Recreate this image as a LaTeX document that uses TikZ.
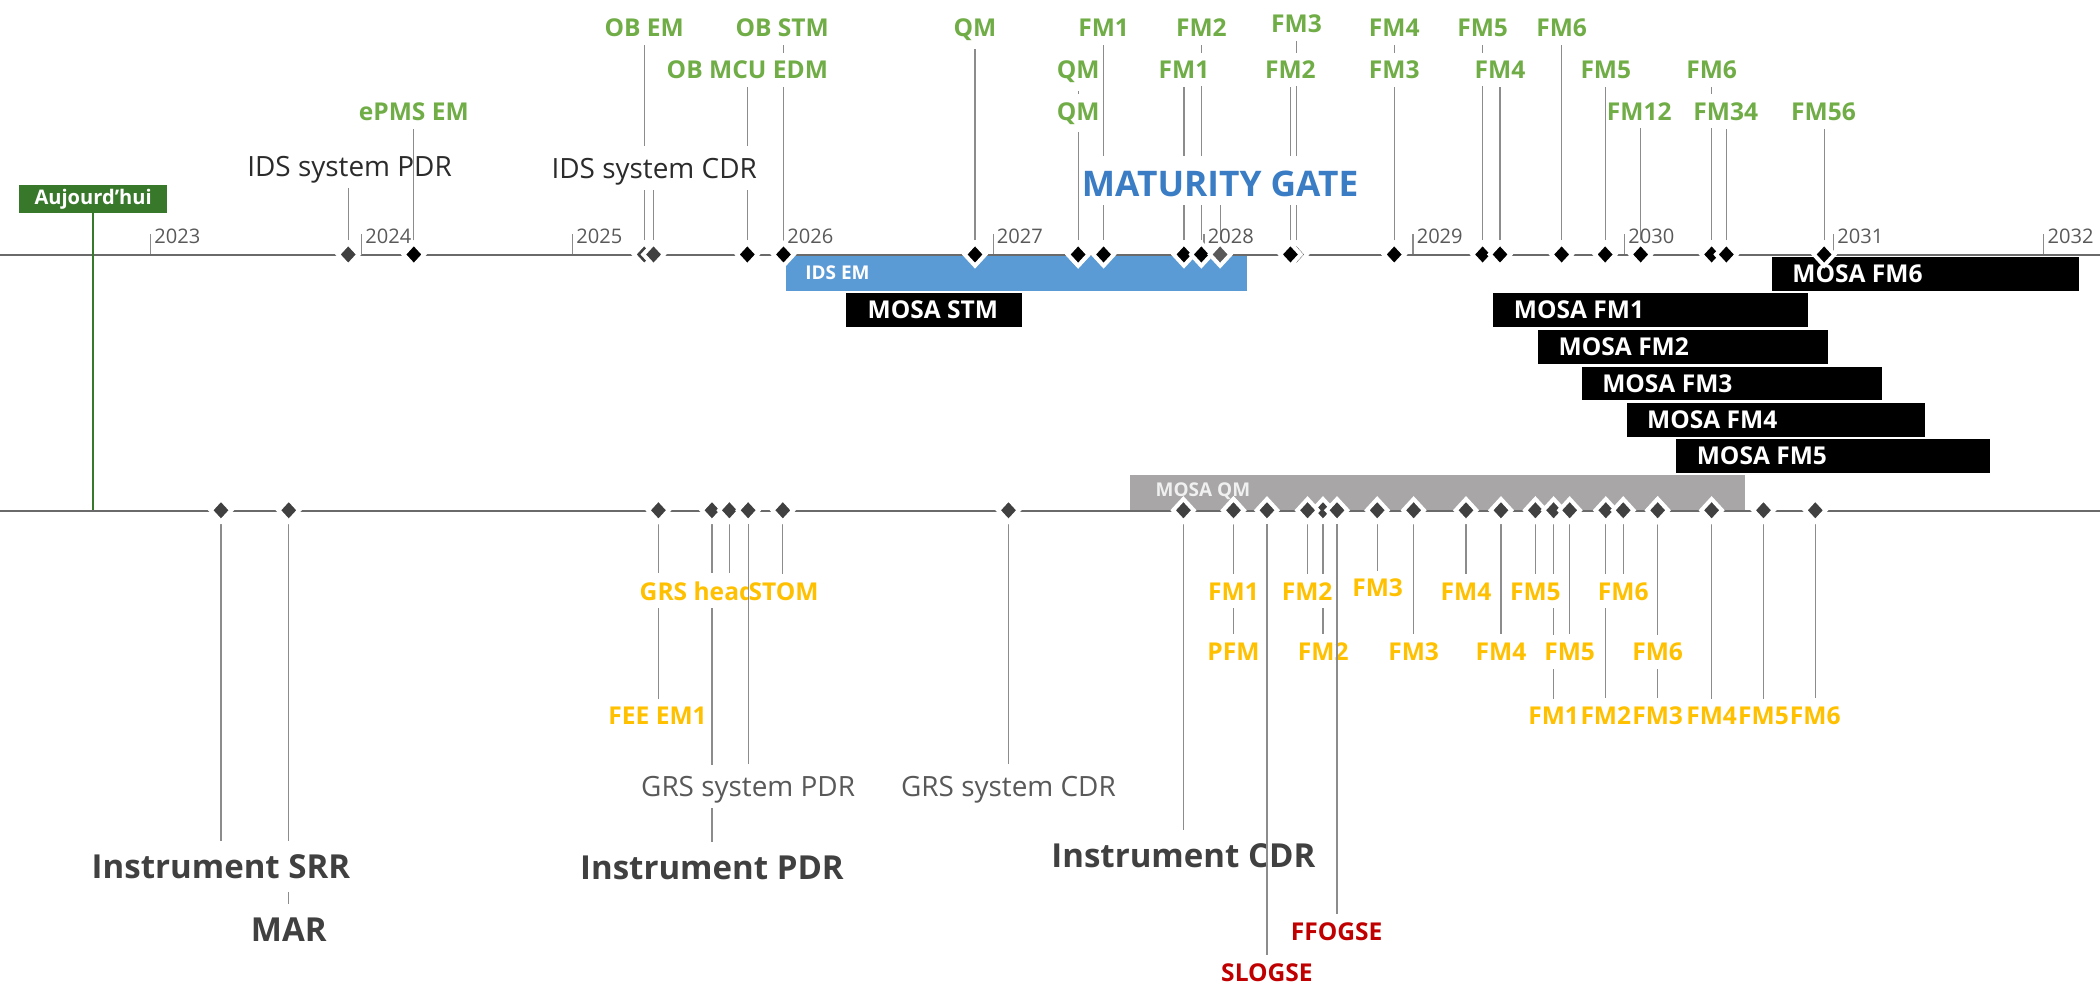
\documentclass[tikz,border=0pt]{standalone}
\usepackage{fontspec}
\setmainfont{Open Sans}
\usetikzlibrary{shapes.geometric,backgrounds}
\definecolor{tlGreen}{HTML}{70AD47}
\definecolor{tlGold}{HTML}{FFC000}
\definecolor{tlRed}{HTML}{C00000}
\definecolor{tlBlueBar}{HTML}{5B9BD5}
\definecolor{tlGate}{HTML}{3A7DC4}
\definecolor{tlInk}{HTML}{404040}
\definecolor{tlText}{HTML}{2B2B2B}
\definecolor{tlSub}{HTML}{595959}
\definecolor{tlLine}{HTML}{8C8C8C}
\definecolor{tlAxis}{HTML}{6A6A6A}
\definecolor{tlToday}{HTML}{38782B}
\definecolor{tlQmBar}{HTML}{A8A6A6}

\begin{document}
\begin{tikzpicture}[x=0.6pt,y=-0.6pt,
  tlMs/.style={shape=diamond, inner sep=0pt, minimum width=10pt, minimum height=10.8pt, draw=white, line width=1.8pt, fill=#1},
  tlMs/.default=black,
  tlLead/.style={draw=tlLine, line width=0.5pt},
  tlTag/.style={font=\bfseries\fontsize{11}{13}\selectfont, text=#1, fill=white, inner xsep=0.5pt, inner ysep=3.6pt, anchor=base},
  tlNote/.style={font=\fontsize{12.5}{15}\selectfont, text=#1, fill=white, inner xsep=1pt, inner ysep=2pt, text height=12.5pt, anchor=base},
  tlReview/.style={font=\bfseries\fontsize{14.8}{17}\selectfont, text=tlInk, fill=white, inner xsep=1pt, inner ysep=6pt, anchor=base},
  tlYear/.style={font=\fontsize{9}{11}\selectfont, text=tlSub, inner sep=0pt, anchor=base west},
  tlBarTxt/.style={font=\bfseries\fontsize{11}{13}\selectfont, text=white, inner sep=0pt, anchor=west},
  tlTick/.style={draw=tlLine, line width=0.5pt}]
\useasboundingbox (0,0) rectangle (1568,747);

\node[fill=tlToday, text=white, font=\bfseries\fontsize{9}{11}\selectfont, minimum width=66.6pt, minimum height=12.6pt, inner sep=0pt] (today) at (69.5,148.5) {Aujourd’hui};
\coordinate (todayFoot) at (69.5,381);

\node[tlYear] (y2023) at (115,182) {2023};
\node[tlYear] (y2024) at (272.5,182) {2024};
\node[tlYear] (y2025) at (430,182) {2025};
\node[tlYear] (y2026) at (587.5,182) {2026};
\node[tlYear] (y2027) at (744,182) {2027};
\node[tlYear] (y2028) at (901.5,182) {2028};
\node[tlYear] (y2029) at (1057.5,182) {2029};
\node[tlYear] (y2030) at (1215.5,182) {2030};
\node[tlYear] (y2031) at (1371.5,182) {2031};
\node[tlYear] (y2032) at (1528.5,182) {2032};

% milestones above the upper axis
\node[tlMs=tlInk] (tIdsPdr) at (260,190) {};
\node[tlMs] (tEpms) at (309,190) {};
\node[tlMs=tlInk] (tObEm) at (481,190) {};
\node[tlMs=tlInk] (tIdsCdr) at (488,190) {};
\node[tlMs] (tObMcu) at (558,190) {};
\node[tlMs] (tObStm) at (585,190) {};
\node[tlMs] (tQm) at (728,190) {};
\node[tlMs] (tQmA) at (805,190) {};
\node[tlMs] (tQmB) at (805,190) {};
\node[tlMs] (tFmOneA) at (824,190) {};
\node[tlMs] (tFmOneB) at (884,190) {};
\node[tlMs] (tFmTwoA) at (897,190) {};
\node[tlMs=tlSub] (tGate) at (911,190) {};
\node[tlMs] (tFmThreeA) at (968,190) {};
\node[tlMs] (tFmTwoB) at (963.5,190) {};
\node[tlMs] (tFmFourA) at (1041,190) {};
\node[tlMs] (tFmThreeB) at (1041,190) {};
\node[tlMs] (tFmFiveA) at (1107,190) {};
\node[tlMs] (tFmFourB) at (1120,190) {};
\node[tlMs] (tFmSixA) at (1166,190) {};
\node[tlMs] (tFmFiveB) at (1198.5,190) {};
\node[tlMs] (tFmOneTwo) at (1225,190) {};
\node[tlMs] (tFmSixB) at (1278,190) {};
\node[tlMs] (tFmThreeFour) at (1289,190) {};
\node[tlMs] (tFmFiveSix) at (1362,190) {};

\node[tlNote=tlText] (ltIdsPdr) at (261,131.5) {IDS system PDR};
\node[tlTag=tlGreen] (ltEpms) at (309,89.6) {ePMS EM};
\node[tlTag=tlGreen] (ltObEm) at (481,26.9) {OB EM};
\node[tlNote=tlText] (ltIdsCdr) at (488.5,133.5) {IDS system CDR};
\node[tlTag=tlGreen] (ltObMcu) at (558,58.5) {OB MCU EDM};
\node[tlTag=tlGreen] (ltObStm) at (584,26.9) {OB STM};
\node[tlTag=tlGreen] (ltQm) at (728,26.9) {QM};
\node[tlTag=tlGreen] (ltQmA) at (805,58.5) {QM};
\node[tlTag=tlGreen] (ltQmB) at (805,89.6) {QM};
\node[tlTag=tlGreen] (ltFmOneA) at (824,26.9) {FM1};
\node[tlTag=tlGreen] (ltFmOneB) at (884,58.5) {FM1};
\node[tlTag=tlGreen] (ltFmTwoA) at (897,26.9) {FM2};
\node[font=\bfseries\fontsize{15.8}{19}\selectfont, text=tlGate, fill=white, inner xsep=1pt, inner ysep=3.5pt, text height=15pt, anchor=base] (ltGate) at (911,147) {MATURITY GATE};
\node[tlTag=tlGreen] (ltFmTwoB) at (963.5,58.5) {FM2};
\node[tlTag=tlGreen] (ltFmThreeA) at (968,24.4) {FM3};
\node[tlTag=tlGreen] (ltFmFourA) at (1041,26.9) {FM4};
\node[tlTag=tlGreen] (ltFmThreeB) at (1041,58.5) {FM3};
\node[tlTag=tlGreen] (ltFmFiveA) at (1107,26.9) {FM5};
\node[tlTag=tlGreen] (ltFmFourB) at (1120,58.5) {FM4};
\node[tlTag=tlGreen] (ltFmSixA) at (1166,26.9) {FM6};
\node[tlTag=tlGreen] (ltFmFiveB) at (1199,58.5) {FM5};
\node[tlTag=tlGreen] (ltFmOneTwo) at (1224,89.6) {FM12};
\node[tlTag=tlGreen] (ltFmSixB) at (1278,58.5) {FM6};
\node[tlTag=tlGreen] (ltFmThreeFour) at (1288.5,89.6) {FM34};
\node[tlTag=tlGreen] (ltFmFiveSix) at (1361.5,89.6) {FM56};

% milestones below the lower axis
\node[tlMs=tlInk] (bSrr) at (165,381) {};
\node[tlMs=tlInk] (bMar) at (215.6,381) {};
\node[tlMs=tlInk] (bFee) at (491.6,381) {};
\node[tlMs=tlInk] (bPdr) at (531.6,381) {};
\node[tlMs=tlInk] (bHead) at (544.6,381) {};
\node[tlMs=tlInk] (bGrsPdr) at (558.6,381) {};
\node[tlMs=tlInk] (bStom) at (584.5,381) {};
\node[tlMs=tlInk] (bGrsCdr) at (753,381) {};
\node[tlMs=tlInk] (bCdr) at (883.6,381) {};
\node[tlMs=tlInk] (bFmOneA) at (921,381) {};
\node[tlMs=tlInk] (bPfm) at (921,381) {};
\node[tlMs=tlInk] (bSlo) at (946,381) {};
\node[tlMs=tlInk] (bFmTwoB) at (987.8,381) {};
\node[tlMs=tlInk] (bFmTwoA) at (976.3,381) {};
\node[tlMs=tlInk] (bFfo) at (998.3,381) {};
\node[tlMs=tlInk] (bFmThreeA) at (1028.3,381) {};
\node[tlMs=tlInk] (bFmThreeB) at (1055.5,381) {};
\node[tlMs=tlInk] (bFmFourA) at (1094.6,381) {};
\node[tlMs=tlInk] (bFmFourB) at (1120.7,381) {};
\node[tlMs=tlInk] (bFmFiveA) at (1146.4,381) {};
\node[tlMs=tlInk] (bFmOneC) at (1160,381) {};
\node[tlMs=tlInk] (bFmFiveB) at (1172,381) {};
\node[tlMs=tlInk] (bFmTwoC) at (1199,381) {};
\node[tlMs=tlInk] (bFmSixA) at (1212,381) {};
\node[tlMs=tlInk] (bFmSixB) at (1237.7,381) {};
\node[tlMs=tlInk] (bFmThreeC) at (1237.7,381) {};
\node[tlMs=tlInk] (bFmFourC) at (1278,381) {};
\node[tlMs=tlInk] (bFmFiveC) at (1316.7,381) {};
\node[tlMs=tlInk] (bFmSixC) at (1355.4,381) {};

\node[tlReview] (lbSrr) at (165,656) {Instrument SRR};
\node[tlReview] (lbMar) at (215.6,703) {MAR};
\node[tlTag=tlGold] (lbFee) at (491,541) {FEE EM1};
\node[tlReview] (lbPdr) at (531.6,656.6) {Instrument PDR};
\node[tlTag=tlGold, anchor=base west] (lbHead) at (476.5,448) {GRS head};
\node[tlNote=tlSub] (lbGrsPdr) at (558.6,595) {GRS system PDR};
\node[tlTag=tlGold, inner xsep=0pt] (lbStom) at (585,448) {STOM};
\node[tlNote=tlSub] (lbGrsCdr) at (753,595) {GRS system CDR};
\node[tlReview] (lbCdr) at (883.6,648) {Instrument CDR};
\node[tlTag=tlGold] (lbFmOneA) at (921,448) {FM1};
\node[tlTag=tlGold] (lbPfm) at (921,493) {PFM};
\node[tlTag=tlRed] (lbSlo) at (946,733) {SLOGSE};
\node[tlTag=tlGold] (lbFmTwoA) at (976,448) {FM2};
\node[tlTag=tlGold] (lbFmTwoB) at (988,493) {FM2};
\node[tlTag=tlRed] (lbFfo) at (998,702) {FFOGSE};
\node[tlTag=tlGold] (lbFmThreeA) at (1028.6,445.6) {FM3};
\node[tlTag=tlGold] (lbFmThreeB) at (1055.5,493) {FM3};
\node[tlTag=tlGold] (lbFmFourA) at (1094.6,448) {FM4};
\node[tlTag=tlGold] (lbFmFourB) at (1120.7,493) {FM4};
\node[tlTag=tlGold] (lbFmFiveA) at (1146.4,448) {FM5};
\node[tlTag=tlGold] (lbFmOneC) at (1160,541) {FM1};
\node[tlTag=tlGold] (lbFmFiveB) at (1172,493) {FM5};
\node[tlTag=tlGold] (lbFmTwoC) at (1199,541) {FM2};
\node[tlTag=tlGold] (lbFmSixA) at (1212,448) {FM6};
\node[tlTag=tlGold] (lbFmSixB) at (1237.7,493) {FM6};
\node[tlTag=tlGold] (lbFmThreeC) at (1237.7,541) {FM3};
\node[tlTag=tlGold] (lbFmFourC) at (1278,541) {FM4};
\node[tlTag=tlGold] (lbFmFiveC) at (1316.7,541) {FM5};
\node[tlTag=tlGold] (lbFmSixC) at (1355.4,541) {FM6};

\begin{scope}[on background layer]
\fill[tlBlueBar] (587,191) rectangle (931,217);
\fill[black] (632,219) rectangle (763,244);
\fill[black] (1323,192) rectangle (1552,217);
\fill[black] (1115,219) rectangle (1350,244);
\fill[black] (1148.5,246.5) rectangle (1365,272);
\fill[black] (1181,274) rectangle (1405,299);
\fill[black] (1214.5,301) rectangle (1437.6,326);
\fill[black] (1251.6,328) rectangle (1486,353);
\fill[tlQmBar] (844,355) rectangle (1302.6,381);
\node[tlBarTxt, font=\bfseries\fontsize{8.5}{10}\selectfont] (barIdsEm) at (601,204) {IDS EM};
\node[tlBarTxt] (barStm) at (647.5,231.5) {MOSA STM};
\node[tlBarTxt] (barFmSix) at (1338,204.5) {MOSA FM6};
\node[tlBarTxt] (barFmOne) at (1130,231.5) {MOSA FM1};
\node[tlBarTxt] (barFmTwo) at (1163.5,259) {MOSA FM2};
\node[tlBarTxt] (barFmThree) at (1196,286.5) {MOSA FM3};
\node[tlBarTxt] (barFmFour) at (1229.5,313.5) {MOSA FM4};
\node[tlBarTxt] (barFmFive) at (1266.6,340.5) {MOSA FM5};
\node[tlBarTxt, font=\bfseries\fontsize{8.5}{10}\selectfont, text=white!94!black] (barQm) at (862.6,367) {MOSA QM};

\draw[tlAxis, line width=0.9pt] (0,190.4) -- (1568,190.4);
\draw[tlAxis, line width=0.9pt] (0,381.2) -- (1568,381.2);
\draw[tlTick] (112.5,175) -- (112.5,190);
\draw[tlTick] (270,175) -- (270,190);
\draw[tlTick] (427.5,175) -- (427.5,190);
\draw[tlTick] (585,175) -- (585,190);
\draw[tlTick] (741.5,175) -- (741.5,190);
\draw[tlTick] (899,175) -- (899,190);
\draw[tlTick] (1055,175) -- (1055,190);
\draw[tlTick] (1213,175) -- (1213,190);
\draw[tlTick] (1369,175) -- (1369,190);
\draw[tlTick] (1526,175) -- (1526,190);
\draw[tlToday, line width=0.7pt] (today) -- (todayFoot);

\draw[tlLead] (tIdsPdr) -- (tIdsPdr |- ltIdsPdr.south);
\draw[tlLead] (tObEm) -- (tObEm |- ltObEm.south);
\draw[tlLead] (tIdsCdr) -- (tIdsCdr |- ltIdsCdr.south);
\draw[tlLead] (tObMcu) -- (tObMcu |- ltObMcu.south);
\draw[tlLead] (tObStm) -- (tObStm |- ltObStm.south);
\draw[tlLead] (tQm) -- (tQm |- ltQm.south);
\draw[tlLead] (tQmA) -- (tQmA |- ltQmA.south);
\draw[tlLead] (tQmB) -- (tQmB |- ltQmB.south);
\draw[tlLead] (tFmOneA) -- (tFmOneA |- ltFmOneA.south);
\draw[tlLead] (tFmOneB) -- (tFmOneB |- ltFmOneB.south);
\draw[tlLead] (tFmTwoA) -- (tFmTwoA |- ltFmTwoA.south);
\draw[tlLead] (tGate) -- (tGate |- ltGate.south);
\draw[tlLead] (tFmTwoB) -- (tFmTwoB |- ltFmTwoB.south);
\draw[tlLead] (tFmThreeA) -- (tFmThreeA |- ltFmThreeA.south);
\draw[tlLead] (tFmFourA) -- (tFmFourA |- ltFmFourA.south);
\draw[tlLead] (tFmThreeB) -- (tFmThreeB |- ltFmThreeB.south);
\draw[tlLead] (tFmFiveA) -- (tFmFiveA |- ltFmFiveA.south);
\draw[tlLead] (tFmFourB) -- (tFmFourB |- ltFmFourB.south);
\draw[tlLead] (tFmSixA) -- (tFmSixA |- ltFmSixA.south);
\draw[tlLead] (tFmFiveB) -- (tFmFiveB |- ltFmFiveB.south);
\draw[tlLead] (tFmOneTwo) -- (tFmOneTwo |- ltFmOneTwo.south);
\draw[tlLead] (tFmSixB) -- (tFmSixB |- ltFmSixB.south);
\draw[tlLead] (tFmThreeFour) -- (tFmThreeFour |- ltFmThreeFour.south);
\draw[tlLead] (tFmFiveSix) -- (tFmFiveSix |- ltFmFiveSix.south);

\draw[tlLead] (bSrr) -- (bSrr |- lbSrr.north);
\draw[tlLead] (bMar) -- (bMar |- lbMar.north);
\draw[tlLead] (bFee) -- (bFee |- lbFee.north);
\draw[tlLead] (bPdr) -- (bPdr |- lbPdr.north);
\draw[tlLead] (bHead) -- (bHead |- lbHead.north);
\draw[tlLead] (bStom) -- (bStom |- lbStom.north);
\draw[tlLead] (bGrsCdr) -- (bGrsCdr |- lbGrsCdr.north);
\draw[tlLead] (bCdr) -- (bCdr |- lbCdr.north);
\draw[tlLead] (bFmOneA) -- (bFmOneA |- lbFmOneA.north);
\draw[tlLead] (bPfm) -- (bPfm |- lbPfm.north);
\draw[tlLead] (bFmTwoA) -- (bFmTwoA |- lbFmTwoA.north);
\draw[tlLead] (bFmTwoB) -- (bFmTwoB |- lbFmTwoB.north);
\draw[tlLead] (bFmThreeA) -- (bFmThreeA |- lbFmThreeA.north);
\draw[tlLead] (bFmThreeB) -- (bFmThreeB |- lbFmThreeB.north);
\draw[tlLead] (bFmFourA) -- (bFmFourA |- lbFmFourA.north);
\draw[tlLead] (bFmFourB) -- (bFmFourB |- lbFmFourB.north);
\draw[tlLead] (bFmFiveA) -- (bFmFiveA |- lbFmFiveA.north);
\draw[tlLead] (bFmOneC) -- (bFmOneC |- lbFmOneC.north);
\draw[tlLead] (bFmFiveB) -- (bFmFiveB |- lbFmFiveB.north);
\draw[tlLead] (bFmTwoC) -- (bFmTwoC |- lbFmTwoC.north);
\draw[tlLead] (bFmSixA) -- (bFmSixA |- lbFmSixA.north);
\draw[tlLead] (bFmSixB) -- (bFmSixB |- lbFmSixB.north);
\draw[tlLead] (bFmThreeC) -- (bFmThreeC |- lbFmThreeC.north);
\draw[tlLead] (bFmFourC) -- (bFmFourC |- lbFmFourC.north);
\draw[tlLead] (bFmFiveC) -- (bFmFiveC |- lbFmFiveC.north);
\draw[tlLead] (bFmSixC) -- (bFmSixC |- lbFmSixC.north);
\end{scope}

% these leaders run across the text they pass
\draw[tlLead] (tEpms) -- (tEpms |- ltEpms.south);
\draw[tlLead] (bGrsPdr) -- (bGrsPdr |- lbGrsPdr.north);
\draw[tlLead] (bSlo) -- (bSlo |- lbSlo.north);
\draw[tlLead] (bFfo) -- (bFfo |- lbFfo.north);
\end{tikzpicture}
\end{document}
